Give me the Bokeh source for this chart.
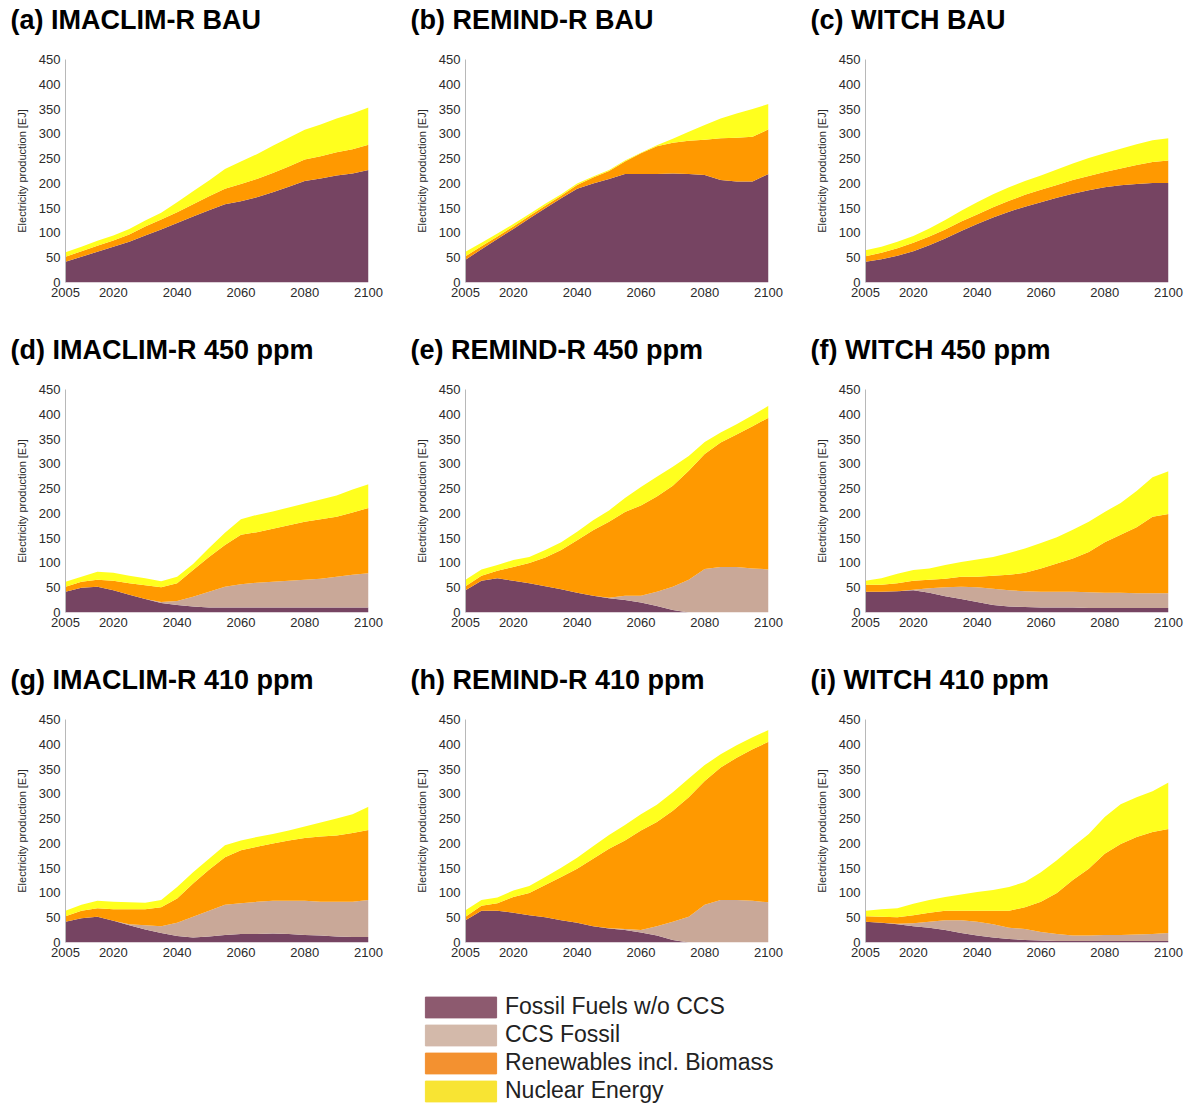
#electricity production by source, 3 models x 3 scenarios

from bokeh.plotting import figure
from bokeh.layouts import column, row
from bokeh.models import ColumnDataSource, FixedTicker, Legend, LegendItem, Range1d, Title
from bokeh.embed import file_html
from bokeh.resources import INLINE

#data
years = [2005, 2010, 2015, 2020, 2025, 2030, 2035, 2040, 2045, 2050,
         2055, 2060, 2065, 2070, 2075, 2080, 2085, 2090, 2095, 2100]
x_ticks = [2005, 2020, 2040, 2060, 2080, 2100]
y_ticks = [0, 50, 100, 150, 200, 250, 300, 350, 400, 450]

series_names = ["Fossil Fuels w/o CCS", "CCS Fossil", "Renewables incl. Biomass", "Nuclear Energy"]
area_colors = ["#764462", "#C9A898", "#FF9900", "#FFFF1E"]
legend_colors = ["#8D5A6F", "#D3B9AA", "#F39130", "#F8E433"]

titles = ["(a) IMACLIM-R BAU", "(b) REMIND-R BAU", "(c) WITCH BAU",
          "(d) IMACLIM-R 450 ppm", "(e) REMIND-R 450 ppm", "(f) WITCH 450 ppm",
          "(g) IMACLIM-R 410 ppm", "(h) REMIND-R 410 ppm", "(i) WITCH 410 ppm"]

# (a) IMACLIM-R BAU
imaclim_bau_fossil = [42, 52, 62, 72, 82, 95, 107, 120, 133, 146, 158, 164, 172, 182, 193, 205, 210, 216, 220, 227]
imaclim_bau_ccs = [0, 0, 0, 0, 0, 0, 0, 0, 0, 0, 0, 0, 0, 0, 0, 0, 0, 0, 0, 0]
imaclim_bau_renew = [10, 11, 12, 13, 15, 18, 20, 22, 25, 28, 31, 35, 37, 39, 41, 43, 45, 47, 49, 51]
imaclim_bau_nuclear = [9, 9, 10, 10, 11, 12, 14, 20, 26, 32, 40, 45, 50, 55, 58, 60, 64, 68, 72, 75]

# (b) REMIND-R BAU
remind_bau_fossil = [46, 67, 88, 108, 129, 150, 170, 189, 200, 209, 219, 219, 219, 220, 219, 217, 207, 204, 204, 219]
remind_bau_ccs = [0, 0, 0, 0, 0, 0, 0, 0, 0, 0, 0, 0, 0, 0, 0, 0, 0, 0, 0, 0]
remind_bau_renew = [7, 6, 5, 5, 5, 5, 5, 8, 12, 16, 25, 42, 56, 62, 67, 71, 84, 88, 90, 90]
remind_bau_nuclear = [9, 7, 6, 5, 4, 4, 3, 3, 2, 2, 2, 1, 2, 8, 18, 30, 40, 49, 56, 51]

# (c) WITCH BAU
witch_bau_fossil = [42, 47, 54, 63, 75, 89, 104, 118, 131, 143, 153, 162, 171, 179, 186, 192, 196, 199, 201, 201]
witch_bau_ccs = [0, 0, 0, 0, 0, 0, 0, 0, 0, 0, 0, 0, 0, 0, 0, 0, 0, 0, 0, 0]
witch_bau_renew = [11, 13, 15, 17, 18, 18, 19, 19, 21, 22, 24, 25, 26, 28, 29, 31, 34, 38, 42, 45]
witch_bau_nuclear = [12, 12, 13, 14, 16, 19, 22, 25, 26, 27, 28, 29, 31, 33, 36, 38, 40, 42, 44, 45]

# (d) IMACLIM-R 450 ppm
imaclim_450_fossil = [42, 50, 52, 45, 36, 27, 19, 15, 12, 10, 10, 10, 10, 10, 10, 10, 10, 10, 10, 10]
imaclim_450_ccs = [0, 0, 0, 0, 0, 0, 2, 8, 20, 32, 42, 47, 50, 52, 54, 56, 58, 62, 66, 69]
imaclim_450_renew = [10, 12, 14, 19, 23, 28, 30, 36, 54, 70, 84, 100, 102, 107, 112, 117, 120, 121, 126, 132]
imaclim_450_nuclear = [10, 10, 16, 16, 15, 14, 12, 13, 12, 18, 25, 31, 35, 35, 36, 37, 40, 43, 46, 48]

# (e) REMIND-R 450 ppm
remind_450_fossil = [45, 64, 69, 64, 59, 53, 47, 40, 34, 29, 25, 20, 13, 5, 0, 0, 0, 0, 0, 0]
remind_450_ccs = [0, 0, 0, 0, 0, 0, 0, 0, 0, 1, 9, 14, 29, 47, 66, 88, 92, 92, 89, 87]
remind_450_renew = [8, 10, 15, 28, 41, 58, 79, 106, 132, 153, 169, 182, 192, 204, 220, 232, 251, 267, 287, 306]
remind_450_nuclear = [13, 13, 12, 14, 12, 15, 16, 17, 20, 23, 28, 37, 40, 38, 30, 24, 20, 21, 22, 24]

# (f) WITCH 450 ppm
witch_450_fossil = [42, 42, 43, 45, 40, 33, 27, 21, 15, 12, 11, 10, 10, 10, 9, 9, 9, 9, 9, 9]
witch_450_ccs = [0, 0, 0, 1, 9, 18, 25, 30, 33, 33, 32, 32, 32, 32, 32, 31, 31, 30, 30, 30]
witch_450_renew = [14, 14, 16, 18, 17, 17, 20, 21, 26, 31, 37, 47, 57, 67, 81, 102, 117, 133, 154, 160]
witch_450_nuclear = [8, 13, 19, 22, 23, 28, 30, 35, 38, 44, 49, 51, 53, 58, 61, 61, 64, 73, 80, 86]

# (g) IMACLIM-R 410 ppm
imaclim_410_fossil = [42, 49, 52, 44, 35, 26, 19, 13, 10, 12, 15, 17, 17, 18, 17, 15, 14, 12, 11, 11]
imaclim_410_ccs = [0, 0, 0, 0, 2, 9, 14, 27, 42, 52, 61, 62, 65, 66, 67, 69, 68, 70, 71, 75]
imaclim_410_renew = [11, 15, 17, 23, 30, 32, 38, 49, 67, 83, 96, 107, 111, 116, 122, 127, 132, 134, 139, 141]
imaclim_410_nuclear = [11, 12, 15, 15, 14, 13, 15, 23, 23, 22, 24, 20, 20, 19, 20, 23, 28, 34, 38, 47]

# (h) REMIND-R 410 ppm
remind_410_fossil = [45, 64, 64, 60, 55, 51, 45, 40, 33, 28, 25, 20, 14, 5, 0, 0, 0, 0, 0, 0]
remind_410_ccs = [0, 0, 0, 0, 0, 0, 0, 0, 0, 1, 2, 5, 19, 37, 52, 76, 86, 86, 84, 81]
remind_410_renew = [7, 10, 15, 32, 45, 65, 87, 109, 136, 160, 179, 201, 210, 224, 241, 250, 267, 287, 306, 324]
remind_410_nuclear = [13, 12, 12, 13, 14, 16, 19, 22, 25, 28, 31, 33, 35, 37, 38, 32, 27, 25, 24, 24]

# (i) WITCH 410 ppm
witch_410_fossil = [42, 40, 37, 33, 30, 25, 19, 14, 10, 7, 5, 4, 3, 3, 3, 3, 3, 3, 3, 3]
witch_410_ccs = [0, 0, 1, 6, 12, 20, 26, 28, 27, 23, 22, 17, 14, 11, 11, 12, 12, 13, 14, 16]
witch_410_renew = [11, 12, 13, 16, 18, 19, 19, 22, 27, 34, 44, 61, 83, 112, 135, 164, 184, 197, 206, 210]
witch_410_nuclear = [11, 15, 18, 23, 26, 28, 33, 38, 42, 48, 51, 60, 66, 67, 70, 74, 80, 80, 82, 94]

panels = [
    (imaclim_bau_fossil, imaclim_bau_ccs, imaclim_bau_renew, imaclim_bau_nuclear),
    (remind_bau_fossil, remind_bau_ccs, remind_bau_renew, remind_bau_nuclear),
    (witch_bau_fossil, witch_bau_ccs, witch_bau_renew, witch_bau_nuclear),
    (imaclim_450_fossil, imaclim_450_ccs, imaclim_450_renew, imaclim_450_nuclear),
    (remind_450_fossil, remind_450_ccs, remind_450_renew, remind_450_nuclear),
    (witch_450_fossil, witch_450_ccs, witch_450_renew, witch_450_nuclear),
    (imaclim_410_fossil, imaclim_410_ccs, imaclim_410_renew, imaclim_410_nuclear),
    (remind_410_fossil, remind_410_ccs, remind_410_renew, remind_410_nuclear),
    (witch_410_fossil, witch_410_ccs, witch_410_renew, witch_410_nuclear),
]

FONT = "Liberation Sans"


def make_panel(title, fossil, ccs, renew, nuclear, last_col):
    src = ColumnDataSource(dict(year=years, fossil=fossil, ccs=ccs, renew=renew, nuclear=nuclear))
    right = 17 if last_col else 32
    f = figure(width=65 + 303 + right, height=330,
               x_range=Range1d(2005, 2100), y_range=Range1d(0, 450),
               output_backend="svg", toolbar_location=None,
               min_border_left=65, min_border_right=right,
               min_border_top=58, min_border_bottom=48)
    f.varea_stack(["fossil", "ccs", "renew", "nuclear"], x="year",
                  color=area_colors, source=src)

    # blank title as a spacer next to the frame, real title stacked above it
    f.add_layout(Title(text=" ", text_font_size="12px", standoff=7), "above")
    f.add_layout(Title(text=title, text_font=FONT, text_font_size="27px",
                       text_font_style="bold", text_color="#000000",
                       offset=-55, standoff=4), "above")

    f.grid.visible = False
    f.outline_line_color = None

    f.xaxis.ticker = FixedTicker(ticks=x_ticks)
    f.yaxis.ticker = FixedTicker(ticks=y_ticks)
    f.axis.major_label_text_font = FONT
    f.axis.major_label_text_font_size = "13px"
    f.axis.major_label_text_color = "#2a2a2a"
    f.axis.major_tick_line_color = None
    f.axis.major_tick_out = 0
    f.axis.major_tick_in = 0
    f.axis.minor_tick_line_color = None
    f.axis.minor_tick_out = 0
    f.axis.major_label_standoff = 5
    f.xaxis.axis_line_color = None
    f.yaxis.axis_line_color = "#b8b8b8"

    f.yaxis.axis_label = "Electricity production [EJ]"
    f.yaxis.axis_label_text_font = FONT
    f.yaxis.axis_label_text_font_size = "11px"
    f.yaxis.axis_label_text_font_style = "normal"
    f.yaxis.axis_label_text_color = "#2a2a2a"
    f.yaxis.axis_label_standoff = 8
    return f


figs = []
for i, (t, d) in enumerate(zip(titles, panels)):
    figs.append(make_panel(t, d[0], d[1], d[2], d[3], i % 3 == 2))

#legend below the grid
lf = figure(width=1180, height=114, x_range=Range1d(0, 1), y_range=Range1d(0, 1),
            output_backend="svg", toolbar_location=None,
            x_axis_location=None, y_axis_location=None, min_border=0)
lf.grid.visible = False
lf.outline_line_color = None
items = []
for name, c in zip(series_names, legend_colors):
    # nan bar: nothing drawn in the plot, only the legend swatch
    r = lf.vbar(x=[float("nan")], top=[float("nan")], width=0.1, fill_color=c, line_color=c)
    items.append(LegendItem(label=name, renderers=[r]))
leg = Legend(items=items, location=(416, 0), glyph_width=89, glyph_height=26,
             label_height=26, label_standoff=0, spacing=1, padding=0, margin=0,
             label_text_font=FONT, label_text_font_size="23px",
             label_text_color="#222222", border_line_color=None,
             background_fill_alpha=0)
lf.add_layout(leg)

p = column(row(figs[0], figs[1], figs[2]),
           row(figs[3], figs[4], figs[5]),
           row(figs[6], figs[7], figs[8]),
           lf)

open("out.html", "w").write(file_html(p, INLINE))
